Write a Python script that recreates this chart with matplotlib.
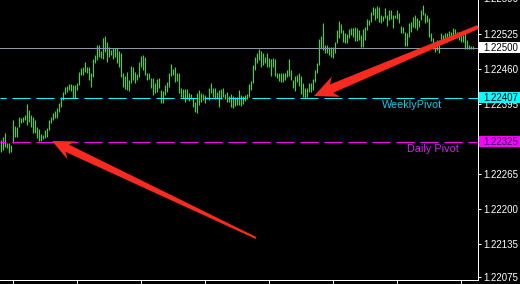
"""Recreate a MetaTrader style bar chart with weekly and daily pivot levels."""

from __future__ import annotations

import math

import matplotlib

matplotlib.use("Agg")
import matplotlib.pyplot as plt
from matplotlib.patches import Polygon, Rectangle
from matplotlib.transforms import blended_transform_factory

# Bar highs and lows, oldest bar first.
bar_high = [
    1.22329, 1.22334, 1.22342, 1.22323, 1.22323, 1.22319, 1.22366, 1.22355, 1.22353, 1.22371,
    1.22370, 1.22371, 1.22375, 1.22396, 1.22384, 1.22375, 1.22371, 1.22366, 1.22353, 1.22349,
    1.22340, 1.22338, 1.22347, 1.22351, 1.22366, 1.22371, 1.22379, 1.22383, 1.22388, 1.22397,
    1.22409, 1.22418, 1.22427, 1.22429, 1.22433, 1.22433, 1.22431, 1.22431, 1.22435, 1.22455,
    1.22462, 1.22464, 1.22474, 1.22464, 1.22464, 1.22453, 1.22479, 1.22487, 1.22505, 1.22505,
    1.22494, 1.22518, 1.22522, 1.22511, 1.22501, 1.22496, 1.22500, 1.22500, 1.22500, 1.22494,
    1.22490, 1.22453, 1.22448, 1.22455, 1.22440, 1.22466, 1.22464, 1.22455, 1.22451, 1.22474,
    1.22485, 1.22487, 1.22483, 1.22453, 1.22453, 1.22444, 1.22444, 1.22435, 1.22442, 1.22444,
    1.22422, 1.22420, 1.22431, 1.22436, 1.22453, 1.22470, 1.22461, 1.22464, 1.22453, 1.22453,
    1.22425, 1.22423, 1.22423, 1.22423, 1.22416, 1.22414, 1.22407, 1.22399, 1.22416, 1.22422,
    1.22416, 1.22414, 1.22412, 1.22409, 1.22425, 1.22435, 1.22425, 1.22425, 1.22418, 1.22422,
    1.22423, 1.22425, 1.22414, 1.22418, 1.22410, 1.22414, 1.22410, 1.22409, 1.22409, 1.22422,
    1.22412, 1.22410, 1.22412, 1.22414, 1.22433, 1.22438, 1.22468, 1.22483, 1.22490, 1.22498,
    1.22494, 1.22490, 1.22483, 1.22490, 1.22481, 1.22479, 1.22481, 1.22479, 1.22453, 1.22453,
    1.22453, 1.22453, 1.22453, 1.22459, 1.22479, 1.22459, 1.22440, 1.22448, 1.22449, 1.22453,
    1.22448, 1.22435, 1.22425, 1.22425, 1.22435, 1.22435, 1.22442, 1.22459, 1.22472, 1.22516,
    1.22522, 1.22546, 1.22505, 1.22505, 1.22501, 1.22501, 1.22501, 1.22511, 1.22533, 1.22550,
    1.22544, 1.22533, 1.22527, 1.22526, 1.22535, 1.22537, 1.22537, 1.22539, 1.22537, 1.22533,
    1.22524, 1.22535, 1.22539, 1.22553, 1.22552, 1.22566, 1.22576, 1.22574, 1.22578, 1.22576,
    1.22561, 1.22559, 1.22574, 1.22561, 1.22570, 1.22570, 1.22561, 1.22561, 1.22570, 1.22565,
    1.22540, 1.22539, 1.22529, 1.22527, 1.22546, 1.22548, 1.22557, 1.22561, 1.22555, 1.22552,
    1.22570, 1.22579, 1.22565, 1.22561, 1.22555, 1.22527, 1.22518, 1.22509, 1.22514, 1.22511,
    1.22527, 1.22524, 1.22527, 1.22527, 1.22531, 1.22529, 1.22537, 1.22535, 1.22529, 1.22529,
    1.22527, 1.22524, 1.22529, 1.22514, 1.22505, 1.22503, 1.22503,
]
bar_low = [
    1.22306, 1.22310, 1.22316, 1.22314, 1.22305, 1.22306, 1.22323, 1.22334, 1.22334, 1.22353,
    1.22360, 1.22362, 1.22366, 1.22357, 1.22362, 1.22353, 1.22342, 1.22342, 1.22332, 1.22327,
    1.22327, 1.22331, 1.22332, 1.22334, 1.22347, 1.22360, 1.22366, 1.22370, 1.22370, 1.22381,
    1.22390, 1.22403, 1.22414, 1.22418, 1.22422, 1.22420, 1.22407, 1.22407, 1.22422, 1.22431,
    1.22449, 1.22449, 1.22455, 1.22453, 1.22440, 1.22427, 1.22446, 1.22472, 1.22477, 1.22483,
    1.22481, 1.22479, 1.22492, 1.22474, 1.22483, 1.22487, 1.22479, 1.22483, 1.22472, 1.22464,
    1.22446, 1.22427, 1.22423, 1.22422, 1.22420, 1.22435, 1.22440, 1.22435, 1.22440, 1.22446,
    1.22464, 1.22459, 1.22449, 1.22440, 1.22442, 1.22425, 1.22412, 1.22416, 1.22418, 1.22425,
    1.22397, 1.22397, 1.22412, 1.22418, 1.22427, 1.22448, 1.22449, 1.22436, 1.22438, 1.22416,
    1.22409, 1.22407, 1.22399, 1.22405, 1.22401, 1.22405, 1.22390, 1.22381, 1.22379, 1.22394,
    1.22399, 1.22403, 1.22397, 1.22405, 1.22403, 1.22416, 1.22409, 1.22405, 1.22407, 1.22390,
    1.22405, 1.22409, 1.22405, 1.22399, 1.22399, 1.22390, 1.22388, 1.22392, 1.22394, 1.22394,
    1.22392, 1.22396, 1.22401, 1.22405, 1.22409, 1.22422, 1.22435, 1.22459, 1.22472, 1.22477,
    1.22464, 1.22468, 1.22472, 1.22464, 1.22464, 1.22448, 1.22464, 1.22448, 1.22444, 1.22438,
    1.22436, 1.22436, 1.22440, 1.22446, 1.22448, 1.22440, 1.22425, 1.22420, 1.22436, 1.22429,
    1.22414, 1.22409, 1.22407, 1.22409, 1.22418, 1.22418, 1.22422, 1.22436, 1.22453, 1.22468,
    1.22500, 1.22496, 1.22490, 1.22490, 1.22487, 1.22483, 1.22481, 1.22490, 1.22509, 1.22518,
    1.22527, 1.22511, 1.22509, 1.22509, 1.22518, 1.22524, 1.22520, 1.22513, 1.22513, 1.22514,
    1.22501, 1.22501, 1.22514, 1.22533, 1.22542, 1.22548, 1.22561, 1.22552, 1.22555, 1.22548,
    1.22546, 1.22550, 1.22555, 1.22540, 1.22552, 1.22553, 1.22537, 1.22555, 1.22553, 1.22546,
    1.22527, 1.22527, 1.22503, 1.22503, 1.22520, 1.22529, 1.22539, 1.22537, 1.22533, 1.22539,
    1.22552, 1.22561, 1.22546, 1.22548, 1.22520, 1.22513, 1.22498, 1.22492, 1.22496, 1.22490,
    1.22509, 1.22513, 1.22514, 1.22511, 1.22518, 1.22518, 1.22520, 1.22520, 1.22518, 1.22514,
    1.22511, 1.22511, 1.22498, 1.22498, 1.22498, 1.22498, 1.22498,
]

# 1.22330 sits under the daily pivot box in the original, so it is left out.
price_ticks = [1.22525, 1.22460, 1.22395, 1.22265, 1.22200, 1.22135, 1.22075]
top_price_label = 1.22590
time_ticks = [6, 38, 70, 102, 134, 166, 198, 230]

current_price = 1.22500
weekly_pivot = 1.22407
daily_pivot = 1.22325

WIDTH_PX, HEIGHT_PX = 520, 284
AXIS_RIGHT_PX, AXIS_BOTTOM_PX = 478, 280
PX = 0.72  # one pixel in points at 100 dpi

GREEN = "#00ff00"
CYAN = "#00ffff"
MAGENTA = "#ff00ff"
PRICE_GRAY = "#8c9aa8"
ARROW_RED = "#fa2a1e"


def to_figure(points: list[tuple[float, float]]) -> list[tuple[float, float]]:
    return [(x / WIDTH_PX, 1 - y / HEIGHT_PX) for x, y in points]


def arrow_outline(tip, tail, tail_width, neck_width, head_width, head_length, sweep):
    # Tapered arrow, thin at the tail and widening toward a swept-back head.
    dx, dy = tail[0] - tip[0], tail[1] - tip[1]
    length = math.hypot(dx, dy)
    ux, uy = dx / length, dy / length
    nx, ny = -uy, ux

    def at(distance, offset):
        return (tip[0] + ux * distance + nx * offset, tip[1] + uy * distance + ny * offset)

    neck = head_length - sweep
    return [
        tip,
        at(head_length, head_width / 2),
        at(neck, neck_width / 2),
        at(length, tail_width / 2),
        at(length, -tail_width / 2),
        at(neck, -neck_width / 2),
        at(head_length, -head_width / 2),
    ]


def price_box(axis, price, face, text_color):
    trans = blended_transform_factory(axis.transAxes, axis.transData)
    span = axis.get_ylim()[1] - axis.get_ylim()[0]
    box_height = 11 * span / AXIS_BOTTOM_PX
    axis.add_patch(
        Rectangle(
            (1.003, price - box_height / 2),
            0.09,
            box_height,
            transform=trans,
            facecolor=face,
            edgecolor="none",
            clip_on=False,
            zorder=6,
        )
    )
    axis.text(
        483 / AXIS_RIGHT_PX,
        price,
        f"{price:.5f}",
        transform=trans,
        color=text_color,
        fontsize=7,
        ha="left",
        va="center",
        clip_on=False,
        zorder=7,
    )


def main() -> None:
    plt.rcParams["font.family"] = ["Liberation Sans", "DejaVu Sans"]
    plt.rcParams["lines.scale_dashes"] = False

    fig = plt.figure(figsize=(WIDTH_PX / 100, HEIGHT_PX / 100), dpi=100, facecolor="black")
    ax = fig.add_axes(
        [0, (HEIGHT_PX - AXIS_BOTTOM_PX) / HEIGHT_PX, AXIS_RIGHT_PX / WIDTH_PX, AXIS_BOTTOM_PX / HEIGHT_PX],
        facecolor="black",
    )

    # Half a pixel of shift so every 1 px bar lands on a single pixel column.
    ax.vlines(
        range(len(bar_high)),
        bar_low,
        bar_high,
        color=GREEN,
        linewidth=PX,
        zorder=2,
    )
    ax.set_xlim(-0.75, 238.25)
    ax.set_ylim(1.220687, 1.225887)

    dash = (8.64, (12.96, 4.32))
    ax.axhline(current_price, color=PRICE_GRAY, linewidth=PX, zorder=3)
    ax.axhline(weekly_pivot, color=CYAN, linewidth=PX, linestyle=dash, zorder=3)
    ax.axhline(daily_pivot, color=MAGENTA, linewidth=PX, linestyle=dash, zorder=3)

    trans = blended_transform_factory(ax.transAxes, ax.transData)
    ax.annotate(
        "WeeklyPivot",
        xy=(412 / AXIS_RIGHT_PX, weekly_pivot),
        xycoords=trans,
        xytext=(0, -5.2),
        textcoords="offset points",
        color="#19c8e6",
        fontsize=7.8,
        ha="center",
        va="center",
    )
    ax.annotate(
        "Daily Pivot",
        xy=(433 / AXIS_RIGHT_PX, daily_pivot),
        xycoords=trans,
        xytext=(0, -5.4),
        textcoords="offset points",
        color="#cc22ee",
        fontsize=7.8,
        ha="center",
        va="center",
    )

    for side in ("top", "left"):
        ax.spines[side].set_visible(False)
    for side in ("right", "bottom"):
        ax.spines[side].set_color("white")
        ax.spines[side].set_linewidth(PX)

    ax.yaxis.tick_right()
    ax.set_yticks(price_ticks, [f"{value:.5f}" for value in price_ticks])
    ax.tick_params(axis="y", colors="white", length=2.2, width=PX, pad=1.5, labelsize=7)
    ax.text(
        483 / AXIS_RIGHT_PX,
        top_price_label,
        f"{top_price_label:.5f}",
        transform=trans,
        color="white",
        fontsize=7,
        ha="left",
        va="center",
        clip_on=False,
    )
    ax.set_xticks(time_ticks)
    ax.tick_params(axis="x", colors="white", length=2.9, width=PX, labelbottom=False)

    price_box(ax, current_price, "white", "black")
    price_box(ax, weekly_pivot, CYAN, "black")
    price_box(ax, daily_pivot, MAGENTA, "#1c0c4a")

    # Two hand-drawn red arrows pointing at the pivot touches.
    for tip, tail, tail_w, neck_w, head_w, head_l in (
        ((52, 141), (256, 238), 2, 8, 20, 22),
        ((314, 96), (478, 27), 4, 9, 22, 24),
    ):
        outline = arrow_outline(tip, tail, tail_w, neck_w, head_w, head_l, 5)
        fig.add_artist(
            Polygon(
                to_figure(outline),
                closed=True,
                transform=fig.transFigure,
                facecolor=ARROW_RED,
                edgecolor="none",
                zorder=10,
            )
        )

    fig.savefig("out.png", dpi=100, facecolor="black")


if __name__ == "__main__":
    main()
